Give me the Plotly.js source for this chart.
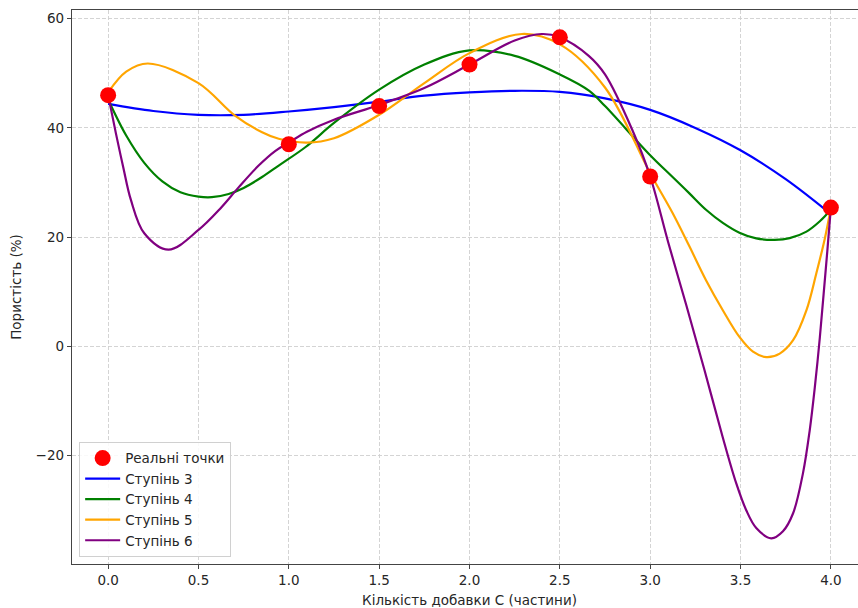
<!DOCTYPE html>
<html>
<head>
<meta charset="utf-8">
<script src="https://cdn.plot.ly/plotly-3.0.1.min.js"></script>
<style>
html, body { margin:0; padding:0; overflow:hidden; background:#fff; }
#chart { width:868px; height:608px; }
</style>
</head>
<body>
<div id="chart"></div>
<script>
// Real points
const realX = [0, 1, 1.5, 2, 2.5, 3, 4];
const realY = [46, 37, 44, 51.6, 56.6, 31.1, 25.4];

// Degree 3
const deg3X = [0, 0.25, 0.5, 0.75, 1.0, 1.25, 1.5, 1.75, 2.0, 2.25, 2.5, 2.75, 3.0, 3.25, 3.5, 3.75, 4.0];
const deg3Y = [44.4, 43.1, 42.4, 42.4, 43.0, 43.8, 44.8, 45.9, 46.5, 46.8, 46.6, 45.4, 43.3, 40.0, 35.9, 30.6, 24.2];

// Degree 4
const deg4X = [0, 0.1, 0.2, 0.3, 0.4, 0.5, 0.574, 0.667, 0.75, 0.852, 0.944, 1.093, 1.25, 1.5, 1.75, 2.0, 2.25, 2.5, 2.663, 2.75, 3.0, 3.124, 3.217, 3.309, 3.402, 3.494, 3.587, 3.689, 3.772, 3.865, 3.939, 4.0];
const deg4Y = [45.2, 38.6, 33.6, 30.2, 28.2, 27.4, 27.3, 27.9, 29.0, 31.0, 33.1, 36.5, 40.9, 47.0, 51.6, 54.2, 53.2, 49.8, 46.8, 44.0, 35.0, 31.0, 28.0, 25.0, 22.6, 20.8, 19.75, 19.5, 19.8, 21.0, 22.9, 25.0];

// Degree 5
const deg5X = [0, 0.1, 0.22, 0.5, 0.7, 0.852, 0.944, 1.1, 1.25, 1.5, 1.75, 2.0, 2.29, 2.5, 2.75, 3.0, 3.124, 3.217, 3.309, 3.402, 3.494, 3.569, 3.643, 3.717, 3.791, 3.865, 3.92, 3.967, 4.0];
const deg5Y = [46.5, 50.3, 51.8, 48.2, 42.3, 39.2, 38.0, 37.3, 38.1, 42.4, 48.2, 53.7, 57.2, 55.3, 47.4, 31.7, 24.4, 18.3, 12.1, 6.6, 1.7, -1.0, -2.0, -1.35, 1.1, 6.6, 13.4, 19.8, 25.4];

// Degree 6
const deg6X = [0, 0.043, 0.083, 0.126, 0.2, 0.334, 0.5, 0.62, 0.722, 0.833, 0.926, 1.0, 1.1, 1.25, 1.5, 1.75, 2.0, 2.25, 2.4, 2.5, 2.66, 2.75, 2.9, 3.0, 3.1, 3.2, 3.3, 3.4, 3.476, 3.531, 3.587, 3.67, 3.735, 3.791, 3.846, 3.883, 3.911, 3.939, 3.96, 3.98, 4.0];
const deg6Y = [46.0, 39.0, 32.9, 26.8, 20.7, 17.7, 21.3, 25.2, 29.1, 33.1, 35.8, 37.3, 39.3, 41.5, 44.2, 47.3, 51.6, 56.0, 57.2, 56.6, 53.2, 49.8, 39.7, 31.1, 19.0, 7.5, -4.3, -16.5, -25.1, -30.0, -33.3, -35.2, -33.9, -30.6, -23.2, -15.4, -7.6, 1.6, 9.6, 17.3, 25.4];

const xTicks = [0, 0.5, 1, 1.5, 2, 2.5, 3, 3.5, 4];
const yTicks = [-20, 0, 20, 40, 60];

const legendLabels = ['Реальні точки', 'Ступінь 3', 'Ступінь 4', 'Ступінь 5', 'Ступінь 6'];
const xTitle = 'Кількість добавки С (частини)';
const yTitle = 'Пористість (%)';

function lineTrace(x, y, name, color, rank) {
  return {
    x: x, y: y, name: name, type: 'scatter', mode: 'lines',
    line: {color: color, width: 2.2, shape: 'spline', smoothing: 1},
    legendrank: rank, legendgroup: name
  };
}

const traces = [
  lineTrace(deg3X, deg3Y, legendLabels[1], '#0000ff', 2),
  lineTrace(deg4X, deg4Y, legendLabels[2], '#008000', 3),
  lineTrace(deg5X, deg5Y, legendLabels[3], '#ffa500', 4),
  lineTrace(deg6X, deg6Y, legendLabels[4], '#800080', 5),
  {
    x: realX, y: realY, name: legendLabels[0], type: 'scatter', mode: 'markers',
    marker: {color: '#ff0000', size: 16}, legendrank: 1, legendgroup: legendLabels[0]
  }
];

const font = {family: 'DejaVu Sans, sans-serif', size: 13.5, color: '#262626'};

const layout = {
  width: 868, height: 608,
  margin: {l: 72, r: 1, t: 10, b: 44},
  paper_bgcolor: '#ffffff', plot_bgcolor: '#ffffff',
  font: font,
  showlegend: true,
  legend: {
    x: 0.009, y: 0.013, xanchor: 'left', yanchor: 'bottom',
    bgcolor: 'rgba(255,255,255,0.85)', bordercolor: '#d0d0d0', borderwidth: 1,
    font: {family: 'DejaVu Sans, sans-serif', size: 13.5, color: '#262626'},
    tracegroupgap: 0, itemwidth: 35
  },
  xaxis: {
    range: [-0.2, 4.2], tickvals: xTicks, ticktext: xTicks.map(v => v.toFixed(1)),
    showgrid: true, gridcolor: '#cfcfcf', griddash: '4px,2px', gridwidth: 0.9,
    zeroline: false, showline: true, linecolor: '#444', linewidth: 1.2, mirror: true,
    ticks: 'outside', ticklen: 4, tickcolor: '#444',
    title: {text: xTitle, font: font, standoff: 9}
  },
  yaxis: {
    range: [-39.9, 61.6], tickvals: yTicks,
    showgrid: true, gridcolor: '#cfcfcf', griddash: '4px,2px', gridwidth: 0.9,
    zeroline: false, showline: true, linecolor: '#444', linewidth: 1.2, mirror: true,
    ticks: 'outside', ticklen: 4, tickcolor: '#444',
    title: {text: yTitle, font: font, standoff: 10}
  }
};

Plotly.newPlot('chart', traces, layout, {displayModeBar: false, staticPlot: true});
</script>
</body>
</html>
